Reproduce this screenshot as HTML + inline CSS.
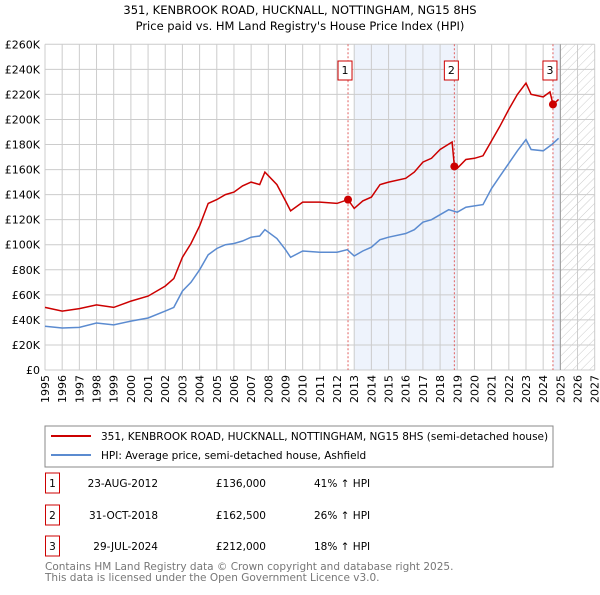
<!DOCTYPE html>
<html><head><meta charset="utf-8"><style>
body{margin:0;background:#fff;font-family:"Liberation Sans","DejaVu Sans",sans-serif;}
svg text{font-family:"DejaVu Sans","Liberation Sans",sans-serif;}
</style></head><body>
<svg id="c" width="600" height="590" xmlns="http://www.w3.org/2000/svg">
<defs><pattern id="hatch" width="6" height="6" patternUnits="userSpaceOnUse" patternTransform="rotate(45)"><line x1="0" y1="0" x2="0" y2="6" stroke="#ccc" stroke-width="1"/></pattern></defs>
<text x="300" y="14" text-anchor="middle" font-size="11.5" fill="#000">351, KENBROOK ROAD, HUCKNALL, NOTTINGHAM, NG15 8HS</text>
<text x="300" y="30" text-anchor="middle" font-size="11.5" fill="#000">Price paid vs. HM Land Registry's House Price Index (HPI)</text>
<g id="plot"></g>
<rect x="45" y="426" width="508" height="41" fill="#fff" stroke="#888"/>
<line x1="51" y1="436" x2="91" y2="436" stroke="#cc0000" stroke-width="2"/>
<text x="101" y="440" font-size="10.5">351, KENBROOK ROAD, HUCKNALL, NOTTINGHAM, NG15 8HS (semi-detached house)</text>
<line x1="51" y1="455" x2="91" y2="455" stroke="#5b8bd0" stroke-width="2"/>
<text x="101" y="459" font-size="10.5">HPI: Average price, semi-detached house, Ashfield</text>
<g id="table" font-size="10.5"></g>
<text x="45" y="570" font-size="10.5" fill="#777">Contains HM Land Registry data © Crown copyright and database right 2025.</text>
<text x="45" y="581" font-size="10.5" fill="#777">This data is licensed under the Open Government Licence v3.0.</text>
</svg>
<script>
const hpiYears=[1995,1996,1997,1998,1999,2000,2001,2002,2002.5,2003,2003.5,2004,2004.5,2005,2005.5,2006,2006.5,2007,2007.5,2007.8,2008.5,2009,2009.3,2010,2011,2012,2012.6,2013,2013.5,2014,2014.5,2015,2016,2016.5,2017,2017.5,2018,2018.5,2019,2019.5,2020,2020.5,2021,2021.5,2022,2022.5,2023,2023.3,2024,2024.5,2024.9];
const hpiValues=[35,33.5,34,37.5,36,39,41.5,47,50,63,70,80,92,97,100,101,103,106,107,112,105,96,90,95,94,94,96,91,95,98,104,106,109,112,118,120,124,128,126,130,131,132,145,155,165,175,184,176,175,180,185];
const propYears=[1995,1996,1997,1998,1999,2000,2001,2002,2002.5,2003,2003.5,2004,2004.5,2005,2005.5,2006,2006.5,2007,2007.5,2007.8,2008.5,2009,2009.3,2010,2011,2012,2012.64,2013,2013.5,2014,2014.5,2015,2016,2016.5,2017,2017.5,2018,2018.7,2018.83,2019,2019.5,2020,2020.5,2021,2021.5,2022,2022.5,2023,2023.3,2024,2024.4,2024.57,2024.9];
const propValues=[50,47,49,52,50,55,59,67,73,90,101,115,133,136,140,142,147,150,148,158,148,135,127,134,134,133,136,129,135,138,148,150,153,158,166,169,176,182,162.5,161,168,169,171,183,195,208,220,229,220,218,222,212,216];
const saleIds=["1","2","3"];
const saleYears=[2012.64,2018.83,2024.57];
const saleValues=[136,162.5,212];
const saleDates=["23-AUG-2012","31-OCT-2018","29-JUL-2024"];
const salePrices=["£136,000","£162,500","£212,000"];
const saleDiffs=["41% ↑ HPI","26% ↑ HPI","18% ↑ HPI"];
const yTicks=[0,20,40,60,80,100,120,140,160,180,200,220,240,260];
const xTicks=[1995,1996,1997,1998,1999,2000,2001,2002,2003,2004,2005,2006,2007,2008,2009,2010,2011,2012,2013,2014,2015,2016,2017,2018,2019,2020,2021,2022,2023,2024,2025,2026,2027];

const X0=45,X1=594.7,Y0=370,Y1=44.3;
const xs=y=>X0+(y-1995)/(2027-1995)*(X1-X0);
const ys=v=>Y0-v/260*(Y0-Y1);
const NS="http://www.w3.org/2000/svg";
const plot=document.getElementById('plot');
function mk(tag,attrs,parent){const e=document.createElementNS(NS,tag);for(const k in attrs)e.setAttribute(k,attrs[k]);(parent||plot).appendChild(e);return e;}

let e;
e=mk('rect',{x:xs(2013),y:Y1,width:xs(2019)-xs(2013),height:Y0-Y1,fill:'#eef3fc'});


e=mk('rect',{x:xs(2024.57),y:Y1,width:xs(2025)-xs(2024.57),height:Y0-Y1,fill:'#eef3fc'});


e=mk('rect',{x:xs(2025),y:Y1,width:X1-xs(2025),height:Y0-Y1,fill:'url(#hatch)'});



yTicks.forEach(t=>{
  e=mk('line',{x1:X0,x2:X1,y1:ys(t),y2:ys(t),stroke:'#ccc','stroke-width':1});
  
  
  e=mk('text',{x:40,y:ys(t)+4,'text-anchor':'end','font-size':11});
  e.textContent=t===0?'£0':'£'+t+'K';
  
  
});
xTicks.forEach(t=>{
  e=mk('line',{x1:xs(t),x2:xs(t),y1:Y1,y2:Y0,stroke:'#ccc','stroke-width':1});
  
  
  e=mk('text',{x:0,y:0,'text-anchor':'end','font-size':11,transform:`translate(${xs(t)+4},${Y0+5}) rotate(-90)`});
  e.textContent=t;
  
  
});
e=mk('line',{x1:xs(2025),x2:xs(2025),y1:Y1,y2:Y0,stroke:'#999','stroke-width':1});



saleYears.forEach((y,i)=>{
  e=mk('line',{x1:xs(y),x2:xs(y),y1:Y1,y2:Y0,stroke:'#e06060','stroke-width':1,'stroke-dasharray':'2,2'});
  
  
});

function path(xa,va){return xa.map((y,i)=>(i?'L':'M')+xs(y).toFixed(1)+','+ys(va[i]).toFixed(1)).join('');}
e=mk('path',{d:path(hpiYears,hpiValues),fill:'none',stroke:'#5b8bd0','stroke-width':1.5});


e=mk('path',{d:path(propYears,propValues),fill:'none',stroke:'#cc0000','stroke-width':1.5});



saleYears.forEach((y,i)=>{
  e=mk('circle',{cx:xs(y),cy:ys(saleValues[i]),r:4,fill:'#cc0000'});
  
  
  const bx=xs(y)-3;
  e=mk('rect',{x:bx-7,y:61,width:14,height:19,fill:'#fff',stroke:'#cc0000'});
  
  
  e=mk('text',{x:bx,y:74,'text-anchor':'middle','font-size':11});
  e.textContent=saleIds[i];
  
  
});

const tb=document.getElementById('table');
const rowY=[483,515,546];
saleIds.forEach((id,i)=>{
  const cy=rowY[i];
  e=mk('rect',{x:45.5,y:cy-10,width:14,height:20,fill:'#fff',stroke:'#cc0000'},tb);
  
  
  e=mk('text',{x:52.5,y:cy+4,'text-anchor':'middle'},tb);
  e.textContent=id;
  
  
  e=mk('text',{x:158,y:cy+4,'text-anchor':'end'},tb);
  e.textContent=saleDates[i];
  
  
  e=mk('text',{x:266,y:cy+4,'text-anchor':'end'},tb);
  e.textContent=salePrices[i];
  
  
  e=mk('text',{x:314,y:cy+4},tb);
  e.textContent=saleDiffs[i];
  
  
});
</script>
</body></html>
